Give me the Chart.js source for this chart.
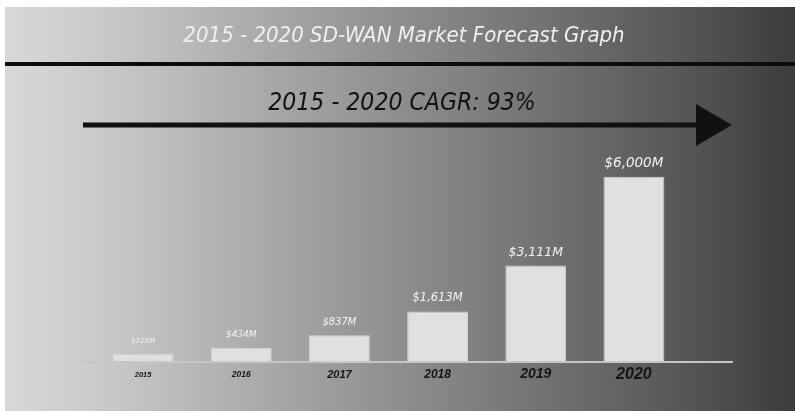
<!DOCTYPE html>
<html>
<head>
<meta charset="utf-8">
<script src="https://cdn.jsdelivr.net/npm/chart.js@4.4.1/dist/chart.umd.min.js"></script>
<style>
  html, body { margin: 0; padding: 0; background: #fff; }
  #wrap { position: relative; width: 795px; height: 411px; }
</style>
</head>
<body>
<div id="wrap"><canvas id="chart"></canvas></div>
<script>
const years = ['2015', '2016', '2017', '2018', '2019', '2020'];
const marketValues = [225, 434, 837, 1613, 3111, 6000];
const chartTitle = '2015 - 2020 SD-WAN Market Forecast Graph';
const cagrText = '2015 - 2020 CAGR: 93%';

// labels grow left to right like in the picture
const tickSizes = [7.5, 8.5, 11, 12, 14, 16];
const valueSizes = [7, 9, 10, 11.5, 12.5, 13.5];

const narrow = '"Liberation Sans Narrow", "DejaVu Sans Condensed", sans-serif';

const decor = {
  id: 'decor',
  beforeDraw(chart) {
    const ctx = chart.ctx;
    const w = chart.width, h = chart.height;
    ctx.save();
    ctx.fillStyle = '#fff';
    ctx.fillRect(0, 0, w, h);
    const g = ctx.createLinearGradient(5, 0, w, 0);
    g.addColorStop(0, '#d8d8d8');
    g.addColorStop(0.12, '#cacaca');
    g.addColorStop(0.5, '#8e8e8e');
    g.addColorStop(0.85, '#585858');
    g.addColorStop(1, '#3c3c3c');
    ctx.fillStyle = g;
    ctx.fillRect(5, 7, w - 5, h - 7);

    // title band
    ctx.fillStyle = '#f0f0f0';
    ctx.font = 'italic 22px ' + narrow;
    ctx.textAlign = 'center';
    ctx.textBaseline = 'middle';
    ctx.fillText(chartTitle, 404, 36);

    ctx.fillStyle = '#0c0c0c';
    ctx.fillRect(5, 62, w - 5, 4);

    // CAGR arrow
    ctx.font = 'italic 24.5px ' + narrow;
    ctx.fillStyle = '#111';
    ctx.fillText(cagrText, 402, 104);
    ctx.fillRect(83, 122.5, 614, 5);
    ctx.beginPath();
    ctx.moveTo(696, 104);
    ctx.lineTo(732, 125);
    ctx.lineTo(696, 146);
    ctx.closePath();
    ctx.fill();
    ctx.restore();
  },
  beforeDatasetsDraw(chart) {
    const ctx = chart.ctx;
    const y0 = chart.scales.y.getPixelForValue(0);
    ctx.save();
    ctx.strokeStyle = '#c6c6c6';
    ctx.lineWidth = 2;
    ctx.beginPath();
    ctx.moveTo(82, y0 + 1);
    ctx.lineTo(733, y0 + 1);
    ctx.stroke();
    ctx.restore();
  },
  afterDatasetsDraw(chart) {
    const ctx = chart.ctx;
    const bars = chart.getDatasetMeta(0).data;
    ctx.save();
    ctx.fillStyle = '#f2f2f2';
    ctx.textAlign = 'center';
    ctx.textBaseline = 'middle';
    bars.forEach((bar, i) => {
      ctx.font = 'italic ' + valueSizes[i] + 'px "DejaVu Sans", sans-serif';
      ctx.fillText('$' + marketValues[i].toLocaleString('en-US') + 'M', bar.x, bar.y - 13);
    });
    ctx.restore();
  }
};

new Chart(document.getElementById('chart').getContext('2d'), {
  type: 'bar',
  data: {
    labels: years,
    datasets: [{
      data: marketValues,
      backgroundColor: '#e0e0e0',
      borderColor: '#d2d2d2',
      borderWidth: 1,
      barPercentage: 0.62,
      categoryPercentage: 1
    }]
  },
  options: {
    responsive: true,
    maintainAspectRatio: false,
    animation: false,
    layout: { padding: { left: 94, right: 112, top: 140, bottom: 20 } },
    plugins: {
      legend: { display: false },
      tooltip: { enabled: false }
    },
    scales: {
      x: {
        grid: { display: false, drawTicks: false },
        border: { display: false },
        afterFit(scale) { scale.height = 30; },
        ticks: {
          padding: 4,
          color: '#151515',
          // same line height for every size keeps the labels on one middle line
          font: (c) => ({
            family: '"Liberation Sans", Arial, sans-serif',
            style: 'italic',
            weight: 'bold',
            size: tickSizes[c.index] || 12,
            lineHeight: '19px'
          })
        }
      },
      y: {
        display: false,
        min: 0,
        max: 7200
      }
    }
  },
  plugins: [decor]
});
</script>
</body>
</html>
